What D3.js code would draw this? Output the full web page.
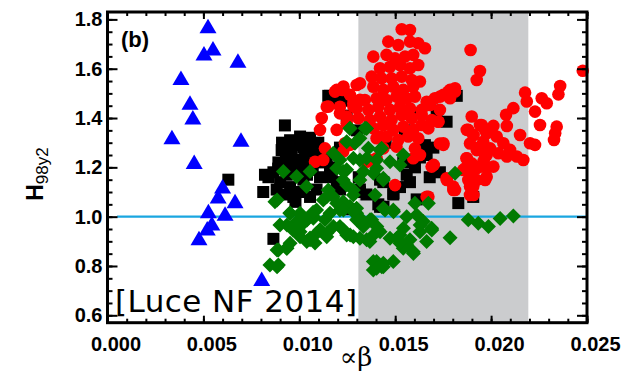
<!DOCTYPE html>
<html>
<head>
<meta charset="utf-8">
<script src="https://cdn.jsdelivr.net/npm/d3@7"></script>
<style>
  body { margin: 0; background: #fff; }
  svg { display: block; }
</style>
</head>
<body>
<div id="chart"></div>
<script>
// points are [alpha*beta, H98y2]
var bluePts = [[0.00524,1.77],[0.0055,1.68],[0.00503,1.66],[0.0068,1.63],[0.00383,1.56],[0.0043,1.46],
  [0.00445,1.40],[0.00336,1.32],[0.00696,1.31],[0.00452,1.22],[0.0060,1.12],[0.00577,1.08],[0.00665,1.06],
  [0.00526,1.02],[0.00613,1.01],[0.00544,0.97],[0.0052,0.95],[0.00477,0.91],[0.00804,0.745]];

var blackPts = [[0.00925,1.37],[0.00821,1.17],[0.00812,1.10],[0.00865,0.91],[0.00952,1.31],[0.01004,1.325],
  [0.01056,1.32],[0.01099,1.30],[0.00908,1.27],[0.0096,1.27],[0.01021,1.28],[0.01073,1.26],[0.00891,1.22],
  [0.00943,1.23],[0.00995,1.23],[0.01047,1.22],[0.01099,1.22],[0.00865,1.18],[0.00952,1.12],[0.009,1.14],
  [0.01004,1.10],[0.0109,1.11],[0.00969,1.08],[0.01056,1.08],[0.00882,1.11],[0.01021,1.15],[0.01108,1.16],
  [0.01151,1.49],[0.01195,1.47],[0.01169,1.16],[0.01212,1.11],[0.01264,1.03],[0.01316,1.11],[0.01412,1.05],
  [0.01421,1.15],[0.0116,1.20],[0.01195,1.14],[0.00839,1.16],[0.01803,1.51],[0.01768,1.385],[0.01716,1.43],
  [0.01655,1.29],[0.01699,1.28],[0.01603,1.20],[0.0156,1.17],[0.01629,1.24],[0.01733,1.18],[0.0149,1.09],
  [0.01421,1.04],[0.01612,1.07],[0.01829,1.055],[0.01907,1.08],[0.01229,1.47],[0.01247,1.41],[0.01212,1.28],
  [0.01438,1.14],[0.01542,1.22],[0.01316,1.10],[0.01664,1.25],[0.01577,1.14],[0.01525,1.12],[0.01821,1.49],
  [0.0116,1.49],[0.01021,1.30],[0.01143,1.24],[0.0063,1.15],[0.016,1.42],[0.0155,1.35],[0.0145,1.30],
  [0.013,1.35],[0.01491,1.095],[0.01439,1.04],[0.00935,1.17],[0.0098,1.19],[0.0104,1.17],[0.0091,1.30],
  [0.0093,1.25],[0.0098,1.29],[0.0103,1.25],[0.0107,1.29],[0.0095,1.20],[0.0101,1.20],[0.0107,1.19],
  [0.0089,1.195],[0.0112,1.27],[0.0092,1.09],[0.0098,1.06],[0.0131,1.16],[0.0135,1.09],[0.0168,1.16]];

var redPts = [[0.01534,1.76],[0.01577,1.757],[0.01464,1.71],[0.01516,1.696],[0.01577,1.71],[0.0162,1.703],
  [0.01655,1.683],[0.01893,1.676],[0.01386,1.649],[0.01455,1.656],[0.01499,1.642],[0.01551,1.649],[0.01594,1.656],
  [0.01421,1.602],[0.01473,1.608],[0.01525,1.615],[0.01577,1.602],[0.0162,1.615],[0.01942,1.591],[0.01925,1.554],
  [0.01377,1.568],[0.01429,1.561],[0.01481,1.561],[0.01534,1.568],[0.01586,1.554],[0.01629,1.548],[0.01229,1.521],
  [0.01316,1.541],[0.01386,1.527],[0.01438,1.514],[0.0149,1.527],[0.01542,1.514],[0.01594,1.527],[0.01786,1.514],
  [0.01812,1.507],[0.01264,1.494],[0.01282,1.46],[0.01342,1.473],[0.01403,1.48],[0.01455,1.473],[0.01507,1.487],
  [0.0156,1.48],[0.01603,1.487],[0.01664,1.466],[0.01707,1.48],[0.01751,1.494],[0.01786,1.48],[0.01212,1.446],
  [0.01299,1.439],[0.0136,1.433],[0.01412,1.446],[0.01473,1.433],[0.01525,1.446],[0.01577,1.439],[0.01638,1.433],
  [0.01681,1.453],[0.01733,1.433],[0.01899,1.406],[0.01247,1.406],[0.01308,1.399],[0.01368,1.392],[0.01421,1.406],
  [0.01481,1.392],[0.01534,1.412],[0.01586,1.399],[0.01638,1.412],[0.0169,1.392],[0.01725,1.385],[0.01881,1.352],
  [0.01942,1.372],[0.01386,1.358],[0.01438,1.372],[0.0149,1.352],[0.01542,1.365],[0.01594,1.352],[0.01638,1.372],
  [0.01673,1.358],[0.01907,1.331],[0.01968,1.352],[0.01403,1.318],[0.01455,1.325],[0.01516,1.311],[0.01568,1.325],
  [0.0162,1.318],[0.01733,1.297],[0.0189,1.297],[0.01959,1.304],[0.01438,1.277],[0.01507,1.284],[0.01603,1.277],
  [0.01629,1.25],[0.01925,1.27],[0.01977,1.25],[0.01403,1.237],[0.01351,1.223],[0.01594,1.237],[0.01872,1.237],
  [0.01899,1.216],[0.01959,1.223],[0.0169,1.203],[0.01855,1.189],[0.01925,1.196],[0.01977,1.203],[0.01768,1.156],
  [0.01881,1.149],[0.01907,1.156],[0.01812,1.108],[0.01499,1.128],[0.01907,1.122],[0.0189,1.088],[0.01673,1.081],
  [0.01195,1.514],[0.01226,1.514],[0.01152,1.447],[0.01117,1.40],[0.01108,1.352],[0.01212,1.419],[0.01247,1.379],
  [0.01195,1.352],[0.01134,1.277],[0.01082,1.223],[0.01125,1.23],[0.01264,1.291],[0.01229,1.264],[0.01299,1.534],
  [0.01316,1.474],[0.01282,1.447],[0.01421,1.325],[0.01143,1.446],[0.01186,1.507],[0.0123,1.528],[0.01238,1.298],
  [0.01368,1.23],[0.01664,1.081],[0.01751,1.291],[0.01803,1.122],
  [0.02478,1.592],[0.0236,1.53],[0.02351,1.496],[0.02177,1.503],[0.02186,1.467],[0.02264,1.48],[0.0229,1.46],
  [0.02229,1.426],[0.02116,1.44],[0.02078,1.413],[0.02255,1.372],[0.02342,1.365],[0.02334,1.338],[0.02328,1.311],
  [0.02151,1.331],[0.02203,1.298],[0.02229,1.291],[0.01873,1.352],[0.01908,1.331],[0.01951,1.372],[0.02012,1.368],
  [0.02082,1.368],[0.01977,1.338],[0.02029,1.325],[0.02064,1.298],[0.01943,1.284],[0.01995,1.277],[0.02038,1.257],
  [0.02099,1.271],[0.02134,1.244],[0.02168,1.23],[0.01873,1.237],[0.01864,1.196],[0.0189,1.176],[0.01943,1.203],
  [0.01977,1.162],[0.01925,1.149],[0.02082,1.244],[0.01969,1.244],[0.02012,1.203],[0.01751,1.298],[0.01725,1.386],
  [0.01701,1.21],[0.01734,1.487],[0.01777,1.507],[0.01812,1.521],
  [0.01769,1.149],[0.01803,1.108],[0.0189,1.122],[0.01908,1.088],[0.01969,1.149]];

var greenPts = [[0.00917,1.183],[0.00986,1.163],[0.01056,1.183],[0.01038,1.122],[0.00873,1.061],[0.00952,1.014],
  [0.00899,0.966],[0.00986,0.98],[0.01004,0.939],[0.01056,0.906],[0.00952,0.892],[0.00891,0.865],[0.00934,0.872],
  [0.00847,0.804],[0.00891,0.804],[0.0109,1.027],[0.01125,1.068],[0.01151,1.108],[0.01177,1.257],[0.01212,1.23],
  [0.01264,1.359],[0.01343,1.359],[0.0129,1.298],[0.01316,1.23],[0.0136,1.277],[0.01403,1.23],[0.01429,1.277],
  [0.01195,1.196],[0.01229,1.149],[0.01177,1.081],[0.01212,1.027],[0.01134,0.987],[0.01108,0.946],[0.01143,0.933],
  [0.01212,0.96],[0.01247,0.933],[0.01264,1.041],[0.01299,1.014],[0.01334,0.96],[0.01369,0.987],[0.01395,1.088],
  [0.01386,1.176],[0.01438,1.149],[0.01377,0.919],[0.01412,0.946],[0.01282,0.919],[0.01351,0.906],[0.01021,0.973],
  [0.01073,0.994],[0.01143,0.919],[0.0109,0.933],[0.01282,1.108],[0.01316,1.149],[0.01247,1.19],[0.0116,1.014],
  [0.01403,0.818],[0.01438,0.797],[0.01386,0.784],
  [0.01264,1.358],[0.01351,1.358],[0.01247,1.304],[0.01316,1.318],[0.01421,1.27],[0.01542,1.25],[0.01282,1.237],
  [0.01351,1.237],[0.01473,1.223],[0.01525,1.21],[0.01403,1.196],[0.01438,1.156],[0.01334,1.183],[0.01812,1.176],
  [0.01229,1.183],[0.01247,1.128],[0.01282,1.088],[0.01229,1.061],[0.01299,1.034],[0.01438,1.034],[0.0149,1.027],
  [0.01603,1.054],[0.01673,1.054],[0.01316,0.98],[0.01377,0.987],[0.0156,1.0],[0.01612,1.007],[0.01647,0.98],
  [0.0169,0.953],[0.01881,0.987],[0.01933,0.973],[0.01986,0.96],[0.01247,0.926],[0.01316,0.912],[0.01368,0.899],
  [0.01421,0.939],[0.01473,0.912],[0.01525,0.926],[0.0156,0.885],[0.01594,0.858],[0.01542,0.872],[0.01629,0.939],
  [0.01664,0.899],[0.01786,0.915],[0.01386,0.818],[0.01438,0.811],[0.0149,0.818],[0.01403,0.791],
  [0.01447,1.027],[0.01491,1.02],[0.01326,0.987],[0.0163,0.966],[0.01691,0.946],[0.01265,0.926],[0.0123,0.946],
  [0.01525,0.892],[0.01595,0.851],[0.02047,0.993],[0.02116,1.003],[0.0143,0.797],[0.01039,0.899],[0.01108,0.946],
  [0.01178,0.96],[0.01004,0.973],[0.01074,1.0],[0.01143,1.081],[0.01195,1.054],[0.0123,1.027],[0.01299,0.987],
  [0.01282,1.02],[0.01404,0.96],[0.01508,0.912],[0.01543,0.953],[0.01577,0.906],
  [0.00884,1.068],[0.00951,1.015],[0.00936,0.966],[0.00967,0.946],[0.01004,0.919],[0.00884,0.865],[0.00936,0.872],
  [0.00884,0.797],[0.0104,0.986],[0.01056,0.913],[0.01082,0.893],[0.01004,1.014],[0.01072,1.018]];

var xMajor = [0.000, 0.005, 0.010, 0.015, 0.020, 0.025];
var yMajor = [0.6, 0.8, 1.0, 1.2, 1.4, 1.6, 1.8];
var bandRange = [0.01308, 0.02194];   // shaded alpha*beta window
var refLevel = 1.0;

var width = 633, height = 373;
var svg = d3.select("#chart").append("svg")
    .attr("width", width)
    .attr("height", height);

var x = d3.scaleLinear().domain([0, 0.025]).range([107.5, 587]);
var y = d3.scaleLinear().domain([0.57, 1.83]).range([322.7, 12]);

var xMinor = d3.range(0, 25.5, 1).map(function(d) { return d / 1000; });
var yMinor = d3.range(12, 37, 1).map(function(d) { return d * 0.05; });

// grey band
svg.append("rect")
    .attr("x", x(bandRange[0]))
    .attr("y", y.range()[1])
    .attr("width", x(bandRange[1]) - x(bandRange[0]))
    .attr("height", y.range()[0] - y.range()[1])
    .attr("fill", "#cbccce");

// H98y2 = 1 line
svg.append("line")
    .attr("x1", x(0.0005)).attr("x2", x(0.025))
    .attr("y1", y(refLevel)).attr("y2", y(refLevel))
    .attr("stroke", "#1aa6e0")
    .attr("stroke-width", 2.2);

var plot = svg.append("g");

plot.selectAll("rect.sq").data(blackPts)
    .enter().append("rect")
    .attr("class", "sq")
    .attr("x", function(d) { return x(d[0]) - 6; })
    .attr("y", function(d) { return y(d[1]) - 6; })
    .attr("width", 12).attr("height", 12)
    .attr("fill", "#000");

plot.selectAll("circle").data(redPts)
    .enter().append("circle")
    .attr("cx", function(d) { return x(d[0]); })
    .attr("cy", function(d) { return y(d[1]); })
    .attr("r", 6.3)
    .attr("fill", "#ff0000");

plot.selectAll("path.dia").data(greenPts)
    .enter().append("path")
    .attr("class", "dia")
    .attr("d", function(d) {
        var cx = x(d[0]), cy = y(d[1]), s = 7.5;
        return "M" + cx + "," + (cy - s) + "L" + (cx + s) + "," + cy + "L" + cx + "," + (cy + s) + "L" + (cx - s) + "," + cy + "Z";
    })
    .attr("fill", "#007a00");

plot.selectAll("path.tri").data(bluePts)
    .enter().append("path")
    .attr("class", "tri")
    .attr("d", function(d) {
        var cx = x(d[0]), cy = y(d[1]);
        return "M" + cx + "," + (cy - 8) + "L" + (cx + 8.5) + "," + (cy + 6.5) + "L" + (cx - 8.5) + "," + (cy + 6.5) + "Z";
    })
    .attr("fill", "#0000ff");

// axes, ticks pointing inwards on all four sides
function styleAxis(g) {
    g.select(".domain").remove();
    g.selectAll(".tick line").attr("stroke", "#000").attr("stroke-width", 2);
}

svg.append("g").attr("transform", "translate(0," + y.range()[0] + ")")
    .call(d3.axisBottom(x).tickValues(xMinor).tickSize(-4).tickFormat(""))
    .call(styleAxis);
svg.append("g").attr("transform", "translate(0," + y.range()[1] + ")")
    .call(d3.axisTop(x).tickValues(xMinor).tickSize(-4).tickFormat(""))
    .call(styleAxis);
svg.append("g").attr("transform", "translate(0," + y.range()[0] + ")")
    .call(d3.axisBottom(x).tickValues(xMajor).tickSize(-7).tickPadding(14).tickFormat(d3.format(".3f")))
    .call(styleAxis)
    .selectAll("text")
    .attr("dx", 8)
    .style("font-family", "Liberation Sans, Arial, sans-serif")
    .style("font-weight", "bold")
    .style("font-size", "20px")
    .attr("fill", "#000");
svg.append("g").attr("transform", "translate(0," + y.range()[1] + ")")
    .call(d3.axisTop(x).tickValues(xMajor).tickSize(-7).tickFormat(""))
    .call(styleAxis);

svg.append("g").attr("transform", "translate(" + x.range()[0] + ",0)")
    .call(d3.axisLeft(y).tickValues(yMinor).tickSize(-5).tickFormat(""))
    .call(styleAxis);
svg.append("g").attr("transform", "translate(" + x.range()[1] + ",0)")
    .call(d3.axisRight(y).tickValues(yMinor).tickSize(-5).tickFormat(""))
    .call(styleAxis);
svg.append("g").attr("transform", "translate(" + x.range()[0] + ",0)")
    .call(d3.axisLeft(y).tickValues(yMajor).tickSize(-10).tickPadding(5).tickFormat(d3.format(".1f")))
    .call(styleAxis)
    .selectAll("text")
    .style("font-family", "Liberation Sans, Arial, sans-serif")
    .style("font-weight", "bold")
    .style("font-size", "20px")
    .attr("fill", "#000");
svg.append("g").attr("transform", "translate(" + x.range()[1] + ",0)")
    .call(d3.axisRight(y).tickValues(yMajor).tickSize(-10).tickFormat(""))
    .call(styleAxis);

// frame
svg.append("rect")
    .attr("x", x.range()[0]).attr("y", y.range()[1])
    .attr("width", x.range()[1] - x.range()[0])
    .attr("height", y.range()[0] - y.range()[1])
    .attr("fill", "none")
    .attr("stroke", "#000")
    .attr("stroke-width", 3);

// panel label
svg.append("text")
    .attr("x", 121).attr("y", 47)
    .style("font-family", "Liberation Sans, Arial, sans-serif")
    .style("font-weight", "bold")
    .style("font-size", "22px")
    .text("(b)");

// citation
svg.append("text")
    .attr("x", 115).attr("y", 312)
    .attr("textLength", 242)
    .style("font-family", "DejaVu Sans, sans-serif")
    .style("font-size", "31px")
    .text("[Luce NF 2014]");

// axis titles
svg.append("text")
    .attr("x", 356).attr("y", 366)
    .attr("text-anchor", "middle")
    .style("font-family", "DejaVu Serif, serif")
    .style("font-size", "26px")
    .text("\u221d\u03b2");

var yl = svg.append("text")
    .attr("transform", "translate(43,174) rotate(-90)")
    .attr("text-anchor", "middle")
    .style("font-family", "Liberation Sans, Arial, sans-serif")
    .style("font-weight", "bold");
yl.append("tspan").style("font-size", "23px").text("H");
yl.append("tspan").attr("dy", 5).style("font-size", "17px").style("font-weight", "normal").text("98y2");
</script>
</body>
</html>
